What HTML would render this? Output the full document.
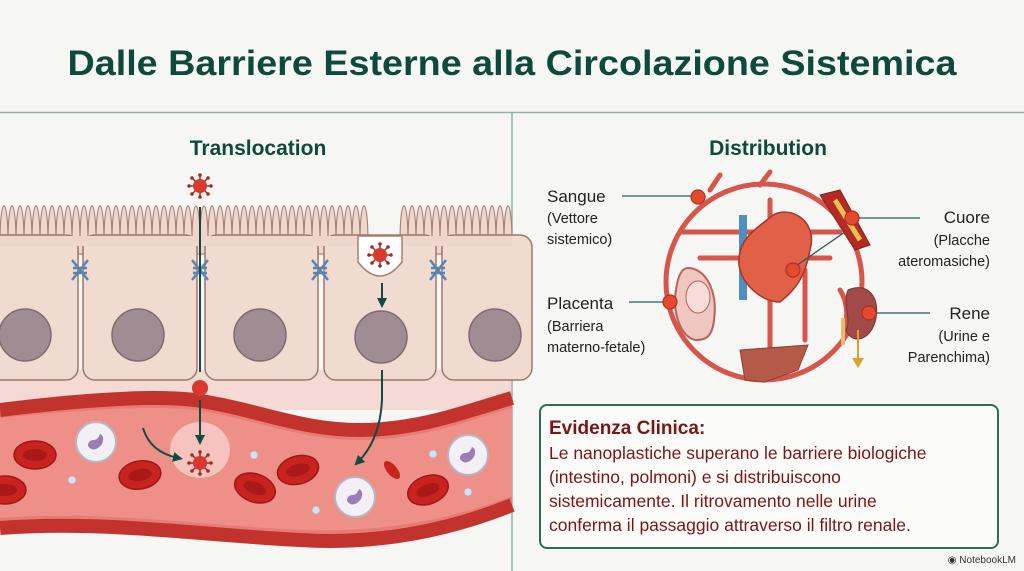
<!DOCTYPE html>
<html><head><meta charset="utf-8"><style>
html,body{margin:0;padding:0;background:#f6f6f4;}
svg{display:block;font-family:"Liberation Sans",Arial,sans-serif;}
</style></head><body>
<svg width="1024" height="571" viewBox="0 0 1024 571" xmlns="http://www.w3.org/2000/svg">
<defs>
<marker id="ar" viewBox="0 0 10 10" refX="5" refY="5" markerWidth="5" markerHeight="5" orient="auto"><path d="M0,0 L10,5 L0,10 z" fill="#114a40"/></marker>
<g id="virus"><g stroke="#a32a22" stroke-width="1.5"><line x1="-11" y1="0" x2="11" y2="0"/><line x1="0" y1="-11" x2="0" y2="11"/><line x1="-8" y1="-8" x2="8" y2="8"/><line x1="-8" y1="8" x2="8" y2="-8"/></g><circle r="7" fill="#d8392c"/><g fill="#a32a22"><circle cx="11" cy="0" r="1.8"/><circle cx="-11" cy="0" r="1.8"/><circle cx="0" cy="11" r="1.8"/><circle cx="0" cy="-11" r="1.8"/><circle cx="8" cy="8" r="1.8"/><circle cx="-8" cy="-8" r="1.8"/><circle cx="8" cy="-8" r="1.8"/><circle cx="-8" cy="8" r="1.8"/></g></g>
<g id="rbc"><ellipse rx="21" ry="14" fill="#c8231f" stroke="#9e1814" stroke-width="1.5"/><ellipse rx="12" ry="6" fill="#a81a17"/></g>
<g id="wbc"><circle r="20" fill="#f2f0f4" stroke="#b8b4c4" stroke-width="2"/><path d="M-8,4 q6,8 14,-2 q3,-8 -2,-10 q-2,6 -6,6 q-6,0 -6,6z" fill="#9a7cb8"/></g>
<g id="junc" fill="none" stroke="#5a84b0" stroke-width="2.5"><path d="M-8,-10 L8,10 M8,-10 L-8,10"/><line x1="-7" y1="-2" x2="7" y2="-2"/><line x1="-7" y1="3" x2="7" y2="3"/></g>
</defs>
<rect width="1024" height="571" fill="#f6f6f4"/>
<text x="512" y="75" text-anchor="middle" font-size="35" font-weight="bold" fill="#0d4a3c" textLength="889" lengthAdjust="spacingAndGlyphs">Dalle Barriere Esterne alla Circolazione Sistemica</text>
<line x1="0" y1="112.5" x2="1024" y2="112.5" stroke="#8fb0ac" stroke-width="1.5"/>
<line x1="512" y1="113" x2="512" y2="571" stroke="#8fb0ac" stroke-width="1.5"/>
<text x="258" y="155" text-anchor="middle" font-size="21" font-weight="bold" fill="#0d4a3c">Translocation</text>
<text x="768" y="155" text-anchor="middle" font-size="21" font-weight="bold" fill="#0d4a3c">Distribution</text>

<!-- LEFT PANEL -->
<rect x="0" y="370" width="511" height="40" fill="#f5d9d4"/>
<g transform="translate(0,-46) scale(1,1.2)">
<path d="M0,240 C0,200 8,200 8,240 C8,200 16,200 16,240 C16,200 24,200 24,240 C24,200 32,200 32,240 C32,200 40,200 40,240 C40,200 48,200 48,240 C48,200 56,200 56,240 C56,200 64,200 64,240 C64,200 72,200 72,240 C72,200 80,200 80,240 C80,200 88,200 88,240 C88,200 96,200 96,240 C96,200 104,200 104,240 C104,200 112,200 112,240 C112,200 120,200 120,240 C120,200 128,200 128,240 C128,200 136,200 136,240 C136,200 144,200 144,240 C144,200 152,200 152,240 C152,200 160,200 160,240 C160,200 168,200 168,240 C168,200 176,200 176,240 C176,200 184,200 184,240 C184,200 192,200 192,240 C192,200 200,200 200,240 C200,200 208,200 208,240 C208,200 216,200 216,240 C216,200 224,200 224,240 C224,200 232,200 232,240 C232,200 240,200 240,240 C240,200 248,200 248,240 C248,200 256,200 256,240 C256,200 264,200 264,240 C264,200 272,200 272,240 C272,200 280,200 280,240 C280,200 288,200 288,240 C288,200 296,200 296,240 C296,200 304,200 304,240 C304,200 312,200 312,240 C312,200 320,200 320,240 C320,200 328,200 328,240 C328,200 336,200 336,240 C336,200 344,200 344,240 C344,200 352,200 352,240 C352,200 360,200 360,240 L360,240 C360,200 368,200 368,240 L400,240 C400,200 408,200 408,240 C408,200 416,200 416,240 C416,200 424,200 424,240 C424,200 432,200 432,240 C432,200 440,200 440,240 C440,200 448,200 448,240 C448,200 456,200 456,240 C456,200 464,200 464,240 C464,200 472,200 472,240 C472,200 480,200 480,240 C480,200 488,200 488,240 C488,200 496,200 496,240 C496,200 504,200 504,240 C504,200 512,200 512,240 L512,250 L0,250 Z" fill="#efd6cc" stroke="#a87e72" stroke-width="1.1"/>
</g>
<g fill="#f1dad0" stroke="#9e766a" stroke-width="1.5">
<rect x="-20" y="235" width="98" height="145" rx="12"/>
<rect x="83" y="235" width="114" height="145" rx="12"/>
<rect x="205" y="235" width="113" height="145" rx="12"/>
<rect x="324" y="235" width="112" height="145" rx="12"/>
<rect x="442" y="235" width="90" height="145" rx="12"/>
</g>
<rect x="0" y="236" width="512" height="10" fill="#efd6cc"/>
<path d="M358,236 L358,262 Q380,290 402,262 L402,236 Z" fill="#fff" stroke="#a87e72" stroke-width="1.5"/>
<use href="#virus" x="380" y="255"/>
<g fill="#a08c92" stroke="#7f6a70" stroke-width="1.5">
<circle cx="25" cy="335" r="26"/><circle cx="138" cy="335" r="26"/><circle cx="260" cy="335" r="26"/><circle cx="381" cy="337" r="26"/><circle cx="495" cy="335" r="26"/>
</g>
<use href="#junc" x="80" y="270"/><use href="#junc" x="200" y="270"/><use href="#junc" x="320" y="270"/><use href="#junc" x="438" y="270"/>
<path d="M0,410 C80,400 150,395 195,400 C260,410 300,430 360,430 C420,430 470,410 512,398 L512,505 C450,530 380,545 300,540 C200,535 100,520 0,528 Z" fill="#e77c75"/>
<path d="M0,410 C80,400 150,395 195,400 C260,410 300,430 360,430 C420,430 470,410 512,398" fill="none" stroke="#c3332d" stroke-width="14"/>
<path d="M0,528 C100,520 200,535 300,540 C380,545 450,530 512,505" fill="none" stroke="#c3332d" stroke-width="14"/>
<path d="M0,418 C80,410 150,405 195,410 C260,420 300,440 360,440 C420,440 470,420 512,408 L512,496 C450,520 380,533 300,530 C200,525 100,510 0,518 Z" fill="#ee8f88"/>
<ellipse cx="200" cy="450" rx="30" ry="28" fill="#f8d0cc" opacity=".8"/>
<use href="#rbc" x="35" y="455"/><use href="#rbc" x="140" y="475" transform="rotate(-10 140 475)"/><use href="#rbc" x="255" y="488" transform="rotate(20 255 488)"/><use href="#rbc" x="298" y="470" transform="rotate(-15 298 470)"/><use href="#rbc" x="428" y="490" transform="rotate(-20 428 490)"/><use href="#rbc" x="5" y="490"/>
<ellipse cx="392" cy="470" rx="5" ry="11" fill="#c8231f" transform="rotate(-40 392 470)"/>
<use href="#wbc" x="96" y="442"/><use href="#wbc" x="355" y="497"/><use href="#wbc" x="468" y="455"/>
<g fill="#dde0e8" stroke="#b0b4c0"><circle cx="72" cy="480" r="4"/><circle cx="254" cy="455" r="4"/><circle cx="433" cy="454" r="4"/><circle cx="316" cy="510" r="4"/><circle cx="468" cy="492" r="4"/></g>
<use href="#virus" x="200" y="463"/>
<use href="#virus" x="200" y="186"/>
<line x1="200" y1="207" x2="200" y2="372" stroke="#114a40" stroke-width="2"/>
<circle cx="200" cy="388" r="8" fill="#d8392c"/>
<line x1="200" y1="400" x2="200" y2="440" stroke="#114a40" stroke-width="2" marker-end="url(#ar)"/>
<line x1="382" y1="283" x2="382" y2="303" stroke="#114a40" stroke-width="2" marker-end="url(#ar)"/>
<path d="M382,370 L382,400 Q380,440 358,462" fill="none" stroke="#114a40" stroke-width="2" marker-end="url(#ar)"/>
<path d="M143,428 Q150,452 178,458" fill="none" stroke="#114a40" stroke-width="2" marker-end="url(#ar)"/>

<!-- RIGHT PANEL -->
<g fill="none" stroke="#d6564c" stroke-width="5" stroke-linecap="round">
<ellipse cx="764" cy="282" rx="98" ry="98"/>
<path d="M680,232 L840,232"/><path d="M700,258 L830,258"/><path d="M770,200 L770,370"/>
<path d="M805,340 L805,270"/><path d="M710,190 L720,175"/><path d="M760,185 L770,172"/>
<path d="M840,290 Q850,305 845,330"/>
</g>
<path d="M743,215 L743,300" stroke="#4f8ec0" stroke-width="8"/>
<path d="M770,230 L800,230" stroke="#4f8ec0" stroke-width="7"/>
<path d="M773,215 C792,205 818,222 810,250 C804,282 792,292 780,302 C762,302 742,285 739,265 C737,238 758,228 773,215z" fill="#e06048" stroke="#a83428" stroke-width="1.5"/>
<path d="M820,195 L840,190 L870,245 L855,250 Z" fill="#b42a24" stroke="#8a1f1a"/>
<path d="M835,200 L860,240" stroke="#e8c34a" stroke-width="5"/>
<path d="M688,268 C705,268 718,290 714,320 C712,340 702,340 696,340 C680,338 672,310 676,290 C678,275 682,268 688,268z" fill="#f0c6c0" stroke="#b8605a" stroke-width="2"/>
<ellipse cx="698" cy="297" rx="12" ry="16" fill="#f8dcd8" stroke="#b8605a"/>
<path d="M740,350 L808,345 L798,370 L765,382 L745,380 Z" fill="#b55a48" stroke="#8a3f32"/>
<path d="M848,290 C866,282 880,295 876,318 C872,340 852,346 846,330 C852,320 842,305 848,290z" fill="#a24a4a" stroke="#7a3030"/>
<path d="M843,318 L843,345" stroke="#e0c070" stroke-width="4"/>
<path d="M858,330 L858,360" stroke="#d7a32e" stroke-width="2"/><path d="M852,358 L864,358 L858,368 z" fill="#d7a32e"/>
<g stroke="#1f5e58" stroke-width="1.3">
<line x1="622" y1="196" x2="694" y2="196"/><line x1="629" y1="302" x2="668" y2="302"/>
<line x1="856" y1="218" x2="920" y2="218"/><line x1="790" y1="270" x2="845" y2="232"/><line x1="870" y1="313" x2="930" y2="313"/>
</g>
<g fill="#e54a2e" stroke="#b0301c" stroke-width="1.2"><circle cx="698" cy="197" r="7"/><circle cx="670" cy="302" r="7"/><circle cx="852" cy="218" r="7"/><circle cx="793" cy="270" r="7"/><circle cx="869" cy="313" r="7"/></g>
<g fill="#222" font-size="17">
<text x="547" y="202">Sangue</text>
<text x="547" y="309">Placenta</text>
<text x="990" y="223" text-anchor="end">Cuore</text>
<text x="990" y="319" text-anchor="end">Rene</text>
</g>
<g fill="#222" font-size="14.5">
<text x="547" y="223">(Vettore</text><text x="547" y="244">sistemico)</text>
<text x="547" y="331">(Barriera</text><text x="547" y="352">materno-fetale)</text>
<text x="990" y="245" text-anchor="end">(Placche</text><text x="990" y="266" text-anchor="end">ateromasiche)</text>
<text x="990" y="341" text-anchor="end">(Urine e</text><text x="990" y="362" text-anchor="end">Parenchima)</text>
</g>
<rect x="540" y="405" width="458" height="143" rx="7" fill="#fbfbf9" stroke="#2f6a5a" stroke-width="2"/>
<text x="549" y="434" font-size="19" font-weight="bold" fill="#7a1616">Evidenza Clinica:</text>
<g font-size="17.5" fill="#7a1616">
<text x="549" y="459">Le nanoplastiche superano le barriere biologiche</text>
<text x="549" y="483">(intestino, polmoni) e si distribuiscono</text>
<text x="549" y="507">sistemicamente. Il ritrovamento nelle urine</text>
<text x="549" y="531">conferma il passaggio attraverso il filtro renale.</text>
</g>
<text x="1016" y="563" text-anchor="end" font-size="10" fill="#333">◉ NotebookLM</text>
</svg>
</body></html>
